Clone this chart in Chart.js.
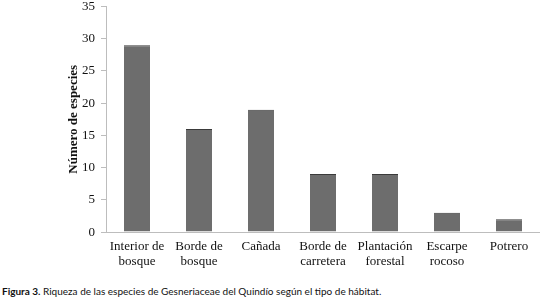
<!DOCTYPE html>
<html>
<head>
<meta charset="utf-8">
<script src="https://cdn.jsdelivr.net/npm/chart.js@4/dist/chart.umd.min.js"></script>
<style>
  html, body { margin: 0; padding: 0; background: #fff; overflow: hidden; }
  #wrap { position: absolute; left: 0; top: -6px; width: 540px; height: 285px; }
  #cap { position: absolute; left: 2px; top: 285px; font-family: Lato, "Open Sans", sans-serif; font-size: 10px; color: #111; white-space: nowrap; }
  #cap b { font-weight: bold; }
</style>
</head>
<body>
<div id="wrap"><canvas id="c"></canvas></div>
<div id="cap"><b>Figura 3.</b> Riqueza de las especies de Gesneriaceae del Quindío según el tipo de hábitat.</div>
<script>
const categories = [
  ["Interior de", "bosque"],
  ["Borde de", "bosque"],
  ["Cañada"],
  ["Borde de", "carretera"],
  ["Plantación", "forestal"],
  ["Escarpe", "rocoso"],
  ["Potrero"]
];
const speciesCount = [29, 16, 19, 9, 9, 3, 2];
const yTicks = [0, 5, 10, 15, 20, 25, 30, 35];
const yTitle = "Número de especies";

const serif = "'Liberation Serif', 'Times New Roman', serif";

new Chart(document.getElementById('c'), {
  type: 'bar',
  data: {
    labels: categories,
    datasets: [{
      data: speciesCount,
      backgroundColor: '#6d6d6d',
      borderColor: '#3a3a3a',
      borderWidth: { top: 1, left: 0, right: 0, bottom: 0 },
      borderSkipped: false,
      barPercentage: 0.42,
      categoryPercentage: 1.0
    }]
  },
  options: {
    responsive: true,
    maintainAspectRatio: false,
    animation: false,
    layout: { padding: { left: 66, right: 0, top: 0, bottom: 3 } },
    plugins: { legend: { display: false }, tooltip: { enabled: false } },
    scales: {
      x: {
        grid: { display: false, drawTicks: false },
        border: { display: true, color: '#bdbdbd', width: 1 },
        ticks: { color: '#111', font: { family: serif, size: 13, lineHeight: 1.15 }, padding: 7, maxRotation: 0, autoSkip: false }
      },
      y: {
        min: 0, max: 35,
        afterBuildTicks: s => { s.ticks = yTicks.map(v => ({ value: v })); },
        afterFit: s => { s.width = 40; },
        grid: { display: true, drawOnChartArea: false, drawTicks: true, tickLength: 5, color: '#bdbdbd' },
        border: { display: true, color: '#bdbdbd', width: 1 },
        ticks: { color: '#111', font: { family: serif, size: 13, lineHeight: 1.0 }, padding: 6 },
        title: { display: true, text: yTitle, color: '#111', font: { family: serif, size: 13, weight: 'bold' }, padding: { top: 0, bottom: 0 } }
      }
    }
  }
});
</script>
</body>
</html>
